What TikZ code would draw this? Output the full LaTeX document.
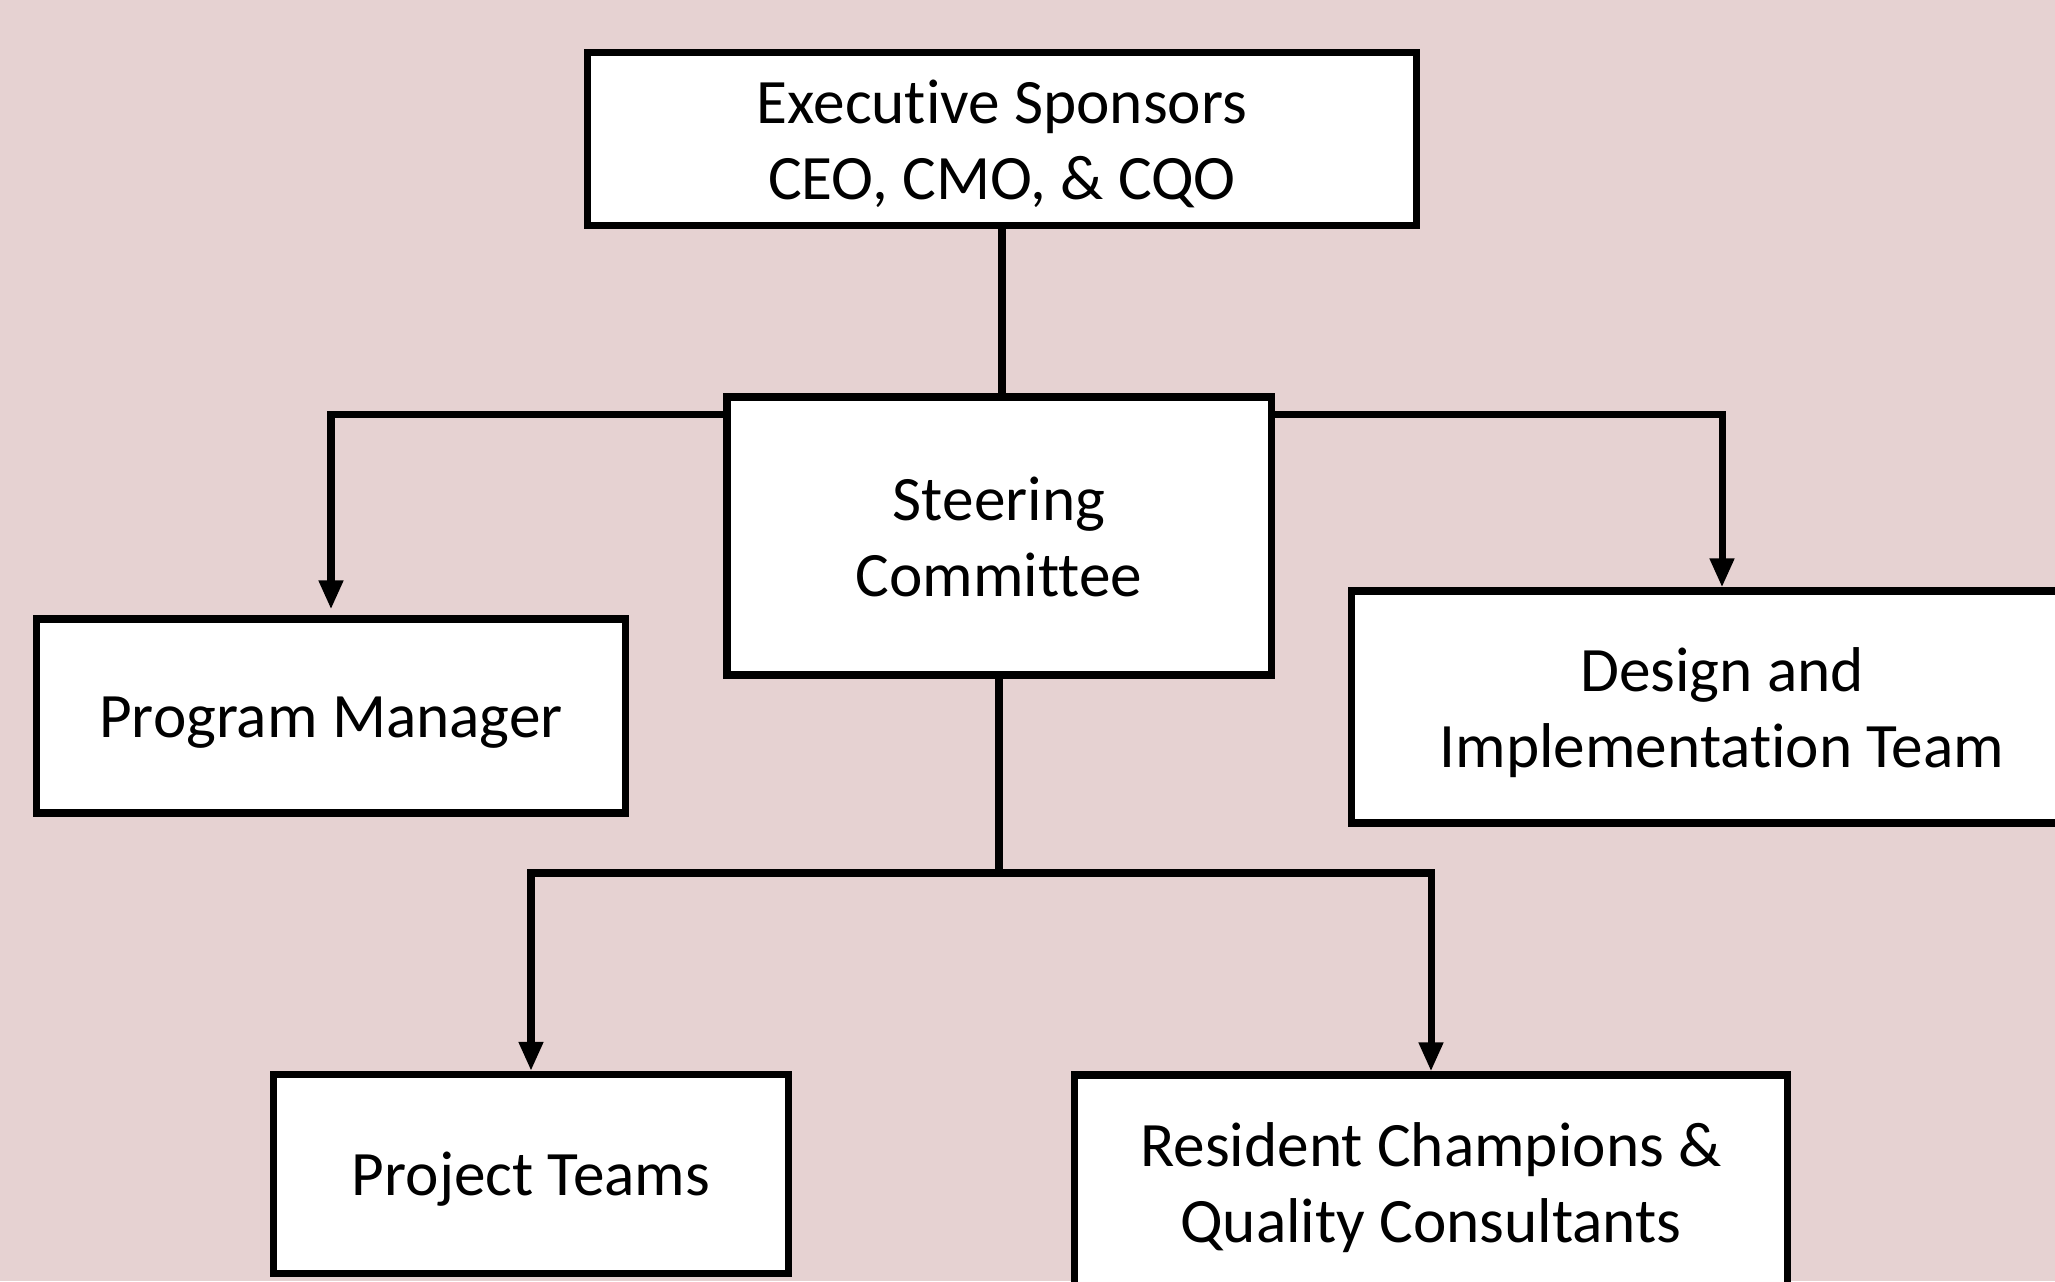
\documentclass[tikz,border=0pt]{standalone}
\usepackage{fontspec}
\setmainfont{Carlito}[Ligatures=NoCommon]
\usetikzlibrary{arrows.meta}
\definecolor{bgpink}{RGB}{230,210,210}
\newcommand{\dropline}[1]{\raisebox{-2.6pt}[\height][\depth]{#1}}
\tikzset{
  orgbox/.style={draw,line width=2pt,fill=white,align=center,inner sep=0pt,
    font=\fontsize{18}{21.6}\selectfont,
    execute at begin node={\rule{0pt}{17.5pt}},
    execute at end node={\rule[-5pt]{0pt}{5pt}}},
  link/.style={line width=2pt},
  arr/.style={link,-{Triangle[length=2.9mm,width=2.3mm]}}
}
\begin{document}
\begin{tikzpicture}
	\fill[bgpink] (0,0) rectangle (20.55,12.81);
	\useasboundingbox (0,0) rectangle (20.55,12.81);
	\node[orgbox,minimum width=8.29cm,minimum height=1.73cm] (exec) at (10.02,11.42) {\dropline{Executive Sponsors}\\\dropline{CEO, CMO, \& CQO}};
	\node[orgbox,minimum width=5.44cm,minimum height=2.78cm] (steer) at (9.99,7.45) {\dropline{Steering}\\\dropline{Committee}};
	\node[orgbox,minimum width=5.89cm,minimum height=1.94cm] (pm) at (3.31,5.65) {Program Manager};
	\node[orgbox,minimum width=7.42cm,minimum height=2.32cm] (dit) at (17.22,5.74) {\dropline{Design and}\\\dropline{Implementation Team}};
	\node[orgbox,minimum width=5.15cm,minimum height=1.99cm] (pt) at (5.31,1.07) {Project Teams};
	\node[orgbox,minimum width=7.13cm,minimum height=2.14cm] (rc) at (14.31,0.99) {\dropline{Resident Champions \&}\\\dropline{Quality Consultants}};
	\coordinate (fork) at (10,4.08);
	\draw[link] (exec.south) -- (exec.south |- steer.north);
	\draw[arr,shorten >=0.6mm] ([yshift=-2.1mm]steer.north west) -| (pm.north);
	\draw[arr] ([yshift=-2.1mm]steer.north east) -| (dit.north);
	\draw[link] (steer.south |- fork) -- (steer.south);
	\draw[arr] (fork) -| (pt.north);
	\draw[arr] (fork) -| (rc.north);
\end{tikzpicture}
\end{document}
